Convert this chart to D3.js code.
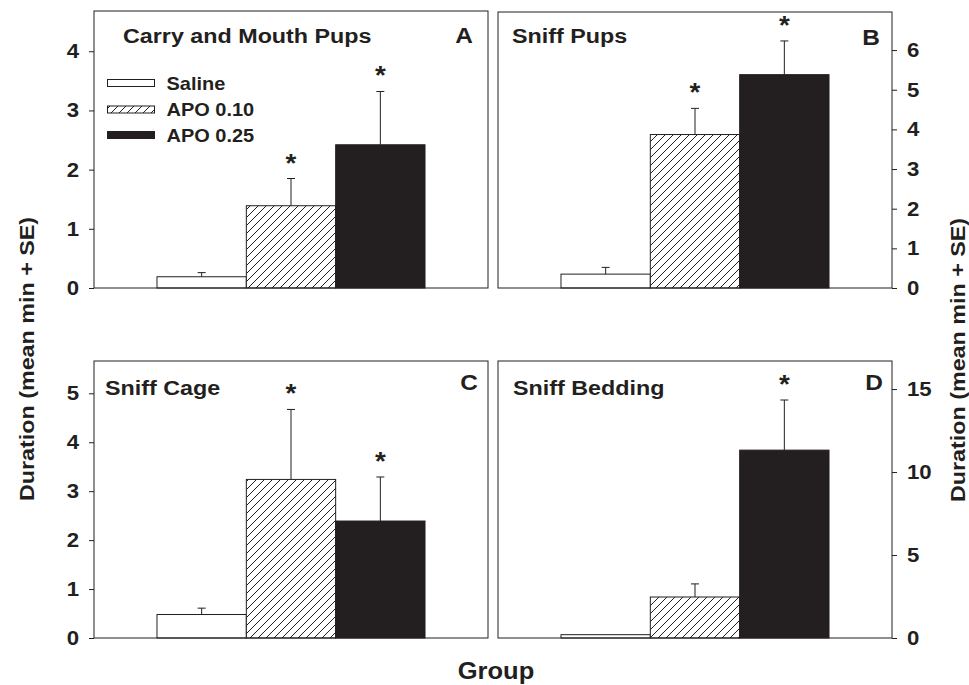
<!DOCTYPE html>
<html>
<head>
<meta charset="utf-8">
<script src="https://cdn.jsdelivr.net/npm/d3@7"></script>
<style>
  body { margin: 0; background: #fff; }
  text { font-family: "Liberation Sans", Arial, Helvetica, sans-serif; font-weight: bold; fill: #231f20; }
</style>
</head>
<body>
<svg id="chart" width="969" height="685"></svg>
<script>
// groups and values (mean min, SE)
const groups = ["Saline", "APO 0.10", "APO 0.25"];

const carryMean = [0.19, 1.39, 2.42];
const carrySE = [0.07, 0.46, 0.9];
const carryStar = [false, true, true];
const carryTicks = [0, 1, 2, 3, 4];

const pupsMean = [0.35, 3.87, 5.38];
const pupsSE = [0.17, 0.66, 0.85];
const pupsStar = [false, true, true];
const pupsTicks = [0, 1, 2, 3, 4, 5, 6];

const cageMean = [0.48, 3.24, 2.39];
const cageSE = [0.13, 1.43, 0.9];
const cageStar = [false, true, true];
const cageTicks = [0, 1, 2, 3, 4, 5];

const beddingMean = [0.2, 2.47, 11.32];
const beddingSE = [0, 0.79, 3.02];
const beddingStar = [false, false, true];
const beddingTicks = [0, 5, 10, 15];

const ink = "#231f20";
const SX = 1.11; // the original type is a little wider than Arial

const svg = d3.select("#chart");
const defs = svg.append("defs");
const hatch = defs
  .append("pattern")
  .attr("id", "hatch")
  .attr("patternUnits", "userSpaceOnUse")
  .attr("width", 8)
  .attr("height", 8);
hatch.append("rect").attr("width", 8).attr("height", 8).attr("fill", "#fff");
hatch
  .append("path")
  .attr("d", "M-2,2 L2,-2 M0,8 L8,0 M6,10 L10,6")
  .attr("stroke", ink)
  .attr("stroke-width", 1);

const fills = ["#fff", "url(#hatch)", ink];

function addText(parent, str, x, y, size, anchor, rot) {
  return parent
    .append("text")
    .attr("transform", "translate(" + x + "," + y + ")" + (rot ? " rotate(" + rot + ")" : "") + " scale(" + SX + ",1)")
    .attr("text-anchor", anchor || "start")
    .style("font-size", size + "px")
    .text(str);
}

const panels = [
  { title: "Carry and Mouth Pups", letter: "A", mean: carryMean, se: carrySE, star: carryStar, ticks: carryTicks, max: 4.68,
    x0: 94, x1: 488, y0: 11, y1: 288, side: "left", titleX: 123, titleY: 43, letterX: 473, letterY: 43 },
  { title: "Sniff Pups", letter: "B", mean: pupsMean, se: pupsSE, star: pupsStar, ticks: pupsTicks, max: 6.96,
    x0: 498, x1: 892, y0: 12, y1: 288, side: "right", titleX: 512, titleY: 43, letterX: 880, letterY: 45 },
  { title: "Sniff Cage", letter: "C", mean: cageMean, se: cageSE, star: cageStar, ticks: cageTicks, max: 5.66,
    x0: 94, x1: 488, y0: 361, y1: 638, side: "left", titleX: 105, titleY: 395, letterX: 478, letterY: 390 },
  { title: "Sniff Bedding", letter: "D", mean: beddingMean, se: beddingSE, star: beddingStar, ticks: beddingTicks, max: 16.69,
    x0: 498, x1: 892, y0: 361, y1: 638, side: "right", titleX: 513, titleY: 395, letterX: 883, letterY: 390 },
];

panels.forEach(function (p) {
  const g = svg.append("g");
  const x = d3.scaleBand().domain(groups).range([p.x0, p.x1]).paddingInner(0).paddingOuter(0.705);
  const y = d3.scaleLinear().domain([0, p.max]).range([p.y1, p.y0]);

  const data = groups.map((d, i) => ({ group: d, mean: p.mean[i], se: p.se[i], star: p.star[i], fill: fills[i] }));

  // bars
  g.selectAll(".bar")
    .data(data)
    .enter()
    .append("rect")
    .attr("x", (d) => x(d.group))
    .attr("y", (d) => y(d.mean))
    .attr("width", x.bandwidth())
    .attr("height", (d) => y(0) - y(d.mean))
    .attr("fill", (d) => d.fill)
    .attr("stroke", ink)
    .attr("stroke-width", 1);

  // error bars (upper only)
  const err = data.filter((d) => d.se > 0);
  g.selectAll(".err")
    .data(err)
    .enter()
    .append("path")
    .attr("d", function (d) {
      const cx = x(d.group) + x.bandwidth() / 2;
      const top = y(d.mean + d.se);
      return "M" + cx + "," + y(d.mean) + "V" + top + "M" + (cx - 4) + "," + top + "H" + (cx + 4);
    })
    .attr("stroke", ink)
    .attr("stroke-width", 1)
    .attr("fill", "none");

  // significance stars
  data.filter((d) => d.star).forEach(function (d) {
    addText(g, "*", x(d.group) + x.bandwidth() / 2, y(d.mean + d.se) - 7, 25, "middle");
  });

  // frame
  g.append("rect")
    .attr("x", p.x0)
    .attr("y", p.y0)
    .attr("width", p.x1 - p.x0)
    .attr("height", p.y1 - p.y0)
    .attr("fill", "none")
    .attr("stroke", ink)
    .attr("stroke-width", 1);

  // y axis
  const axis = (p.side === "left" ? d3.axisLeft(y) : d3.axisRight(y))
    .tickValues(p.ticks)
    .tickFormat(d3.format("d"))
    .tickSize(5)
    .tickPadding(10);
  const ax = g
    .append("g")
    .attr("transform", "translate(" + (p.side === "left" ? p.x0 : p.x1) + ",0)")
    .call(axis);
  ax.select(".domain").remove();
  ax.selectAll(".tick line").attr("stroke", ink);
  ax.selectAll(".tick text")
    .attr("fill", ink)
    .style("font-size", "20px")
    .attr("x", function () { return +d3.select(this).attr("x") / SX; })
    .attr("transform", "scale(" + SX + ",1)");
  ax.attr("font-family", null).attr("font-size", null);

  addText(g, p.title, p.titleX, p.titleY, 21);
  addText(g, p.letter, p.letterX, p.letterY, 22, "end");
});

// legend in panel A
const legend = svg.append("g");
const legendRows = [83, 109.5, 135];
groups.forEach(function (name, i) {
  legend
    .append("rect")
    .attr("x", 107.5)
    .attr("y", legendRows[i] - 3.5)
    .attr("width", 47)
    .attr("height", 7)
    .attr("fill", fills[i])
    .attr("stroke", ink)
    .attr("stroke-width", 1);
  addText(legend, name, 166.5, legendRows[i] + 6.5, 18);
});

// shared axis titles
addText(svg, "Duration (mean min + SE)", 34, 359, 21, "middle", -90);
addText(svg, "Duration (mean min + SE)", 965, 360, 21, "middle", -90);
addText(svg, "Group", 496, 679, 23, "middle");
</script>
</body>
</html>
